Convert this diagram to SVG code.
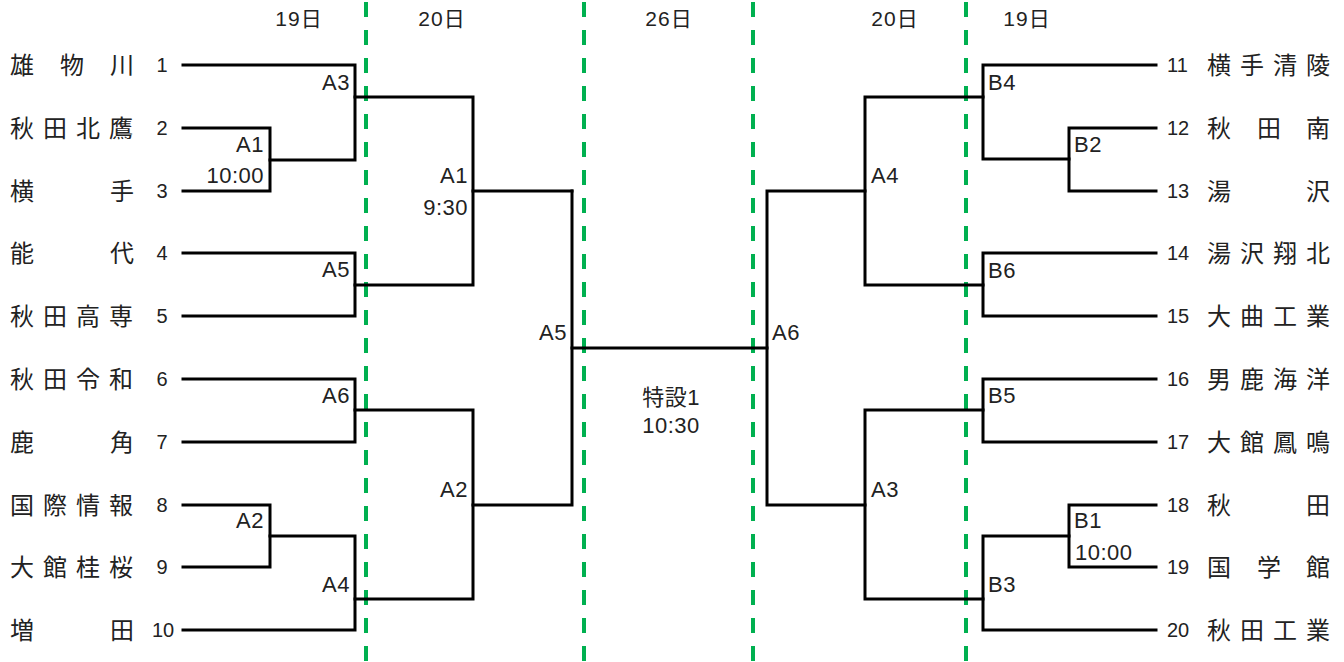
<svg xmlns="http://www.w3.org/2000/svg" width="1344" height="662" viewBox="0 0 1344 662">
<style>
.bg{fill:#ffffff}
.ln{fill:none;stroke:#000;stroke-width:3;stroke-linejoin:miter;stroke-linecap:square}
.gd{fill:none;stroke:#00B050;stroke-width:4;stroke-dasharray:15 13}
.nm{font-family:"Noto Sans CJK JP","Noto Sans CJK SC",sans-serif;font-size:24px;fill:#222}
.no{font-family:"Liberation Sans",Arial,sans-serif;font-size:20px;fill:#222}
.lb{font-family:"Liberation Sans","Noto Sans CJK JP",sans-serif;font-size:22px;fill:#222;letter-spacing:0.5px}
.dt{font-family:"Liberation Sans","Noto Sans CJK JP",sans-serif;font-size:21px;fill:#222;text-anchor:middle;letter-spacing:1px}
.e{text-anchor:end}
.m{text-anchor:middle}
</style>
<rect class="bg" x="0" y="0" width="1344" height="662"/>

<g id="day-dividers">
<line class="gd" x1="366" y1="2" x2="366" y2="662"/>
<line class="gd" x1="584" y1="2" x2="584" y2="662"/>
<line class="gd" x1="753" y1="2" x2="753" y2="662"/>
<line class="gd" x1="966" y1="2" x2="966" y2="662"/>
</g>

<g id="day-labels">
<text class="dt" x="299" y="26">19日</text>
<text class="dt" x="442" y="26">20日</text>
<text class="dt" x="669" y="26">26日</text>
<text class="dt" x="895" y="26">20日</text>
<text class="dt" x="1027" y="26">19日</text>
</g>

<g id="connectors">
<path class="ln" d="M183,65 H355 V160 H270"/>
<path class="ln" d="M183,128 H270 V191 H183"/>
<path class="ln" d="M355,97 H473 V285 H355"/>
<path class="ln" d="M183,253 H355 V316 H183"/>
<path class="ln" d="M473,191 H572"/>
<path class="ln" d="M183,379 H355 V442 H183"/>
<path class="ln" d="M183,505 H270 V567 H183"/>
<path class="ln" d="M270,536 H355 V630 H183"/>
<path class="ln" d="M355,410 H473 V599 H355"/>
<path class="ln" d="M473,505 H572 V191"/>
<path class="ln" d="M572,348 H767"/>
<path class="ln" d="M1156,65 H983 V159 H1069"/>
<path class="ln" d="M1156,128 H1069 V191 H1156"/>
<path class="ln" d="M983,97 H865 V285 H983"/>
<path class="ln" d="M1156,253 H983 V316 H1156"/>
<path class="ln" d="M865,191 H767 V505 H865"/>
<path class="ln" d="M1156,379 H983 V442 H1156"/>
<path class="ln" d="M1156,505 H1069 V567 H1156"/>
<path class="ln" d="M1069,536 H983 V630 H1156"/>
<path class="ln" d="M983,410 H865 V599 H983"/>
</g>

<g id="team-1"><text class="nm" x="10 60 110" y="74">雄物川</text><text class="no m" x="162" y="72">1</text></g>
<g id="team-2"><text class="nm" x="10 43 76 109" y="137">秋田北鷹</text><text class="no m" x="162" y="135">2</text></g>
<g id="team-3"><text class="nm" x="10 110" y="200">横手</text><text class="no m" x="162" y="198">3</text></g>
<g id="team-4"><text class="nm" x="10 110" y="262">能代</text><text class="no m" x="162" y="260">4</text></g>
<g id="team-5"><text class="nm" x="10 43 76 109" y="325">秋田高専</text><text class="no m" x="162" y="323">5</text></g>
<g id="team-6"><text class="nm" x="10 43 76 109" y="388">秋田令和</text><text class="no m" x="162" y="386">6</text></g>
<g id="team-7"><text class="nm" x="10 110" y="451">鹿角</text><text class="no m" x="162" y="449">7</text></g>
<g id="team-8"><text class="nm" x="10 43 76 109" y="514">国際情報</text><text class="no m" x="162" y="512">8</text></g>
<g id="team-9"><text class="nm" x="10 43 76 109" y="576">大館桂桜</text><text class="no m" x="162" y="574">9</text></g>
<g id="team-10"><text class="nm" x="10 110" y="639">増田</text><text class="no m" x="163" y="637">10</text></g>

<g id="team-11"><text class="no" x="1167" y="72">11</text><text class="nm" x="1207 1240 1273 1306" y="74">横手清陵</text></g>
<g id="team-12"><text class="no" x="1167" y="135">12</text><text class="nm" x="1207 1257 1306" y="137">秋田南</text></g>
<g id="team-13"><text class="no" x="1167" y="198">13</text><text class="nm" x="1207 1306" y="200">湯沢</text></g>
<g id="team-14"><text class="no" x="1167" y="260">14</text><text class="nm" x="1207 1240 1273 1306" y="262">湯沢翔北</text></g>
<g id="team-15"><text class="no" x="1167" y="323">15</text><text class="nm" x="1207 1240 1273 1306" y="325">大曲工業</text></g>
<g id="team-16"><text class="no" x="1167" y="386">16</text><text class="nm" x="1207 1240 1273 1306" y="388">男鹿海洋</text></g>
<g id="team-17"><text class="no" x="1167" y="449">17</text><text class="nm" x="1207 1240 1273 1306" y="451">大館鳳鳴</text></g>
<g id="team-18"><text class="no" x="1167" y="512">18</text><text class="nm" x="1207 1306" y="514">秋田</text></g>
<g id="team-19"><text class="no" x="1167" y="574">19</text><text class="nm" x="1207 1257 1306" y="576">国学館</text></g>
<g id="team-20"><text class="no" x="1167" y="637">20</text><text class="nm" x="1207 1240 1273 1306" y="639">秋田工業</text></g>

<g id="match-left-r1-A3"><text class="lb e" x="350" y="90">A3</text></g>
<g id="match-left-r1-A1"><text class="lb e" x="264" y="152">A1</text><text class="lb e" x="264" y="183">10:00</text></g>
<g id="match-left-r1-A5"><text class="lb e" x="350" y="277">A5</text></g>
<g id="match-left-r1-A6"><text class="lb e" x="350" y="403">A6</text></g>
<g id="match-left-r1-A2"><text class="lb e" x="264" y="528">A2</text></g>
<g id="match-left-r1-A4"><text class="lb e" x="350" y="592">A4</text></g>
<g id="match-left-r2-A1"><text class="lb e" x="468" y="183">A1</text><text class="lb e" x="468" y="215">9:30</text></g>
<g id="match-left-r2-A2"><text class="lb e" x="468" y="497">A2</text></g>
<g id="match-left-r3-A5"><text class="lb e" x="567" y="340">A5</text></g>
<g id="match-final"><text class="lb m" x="671" y="405">特設1</text><text class="lb m" x="671" y="433">10:30</text></g>
<g id="match-right-r3-A6"><text class="lb" x="772" y="340">A6</text></g>
<g id="match-right-r2-A4"><text class="lb" x="871" y="183">A4</text></g>
<g id="match-right-r2-A3"><text class="lb" x="871" y="497">A3</text></g>
<g id="match-right-r1-B4"><text class="lb" x="988" y="90">B4</text></g>
<g id="match-right-r1-B2"><text class="lb" x="1074" y="152">B2</text></g>
<g id="match-right-r1-B6"><text class="lb" x="988" y="278">B6</text></g>
<g id="match-right-r1-B5"><text class="lb" x="988" y="403">B5</text></g>
<g id="match-right-r1-B1"><text class="lb" x="1074" y="528">B1</text><text class="lb" x="1075" y="560">10:00</text></g>
<g id="match-right-r1-B3"><text class="lb" x="988" y="592">B3</text></g>
</svg>
